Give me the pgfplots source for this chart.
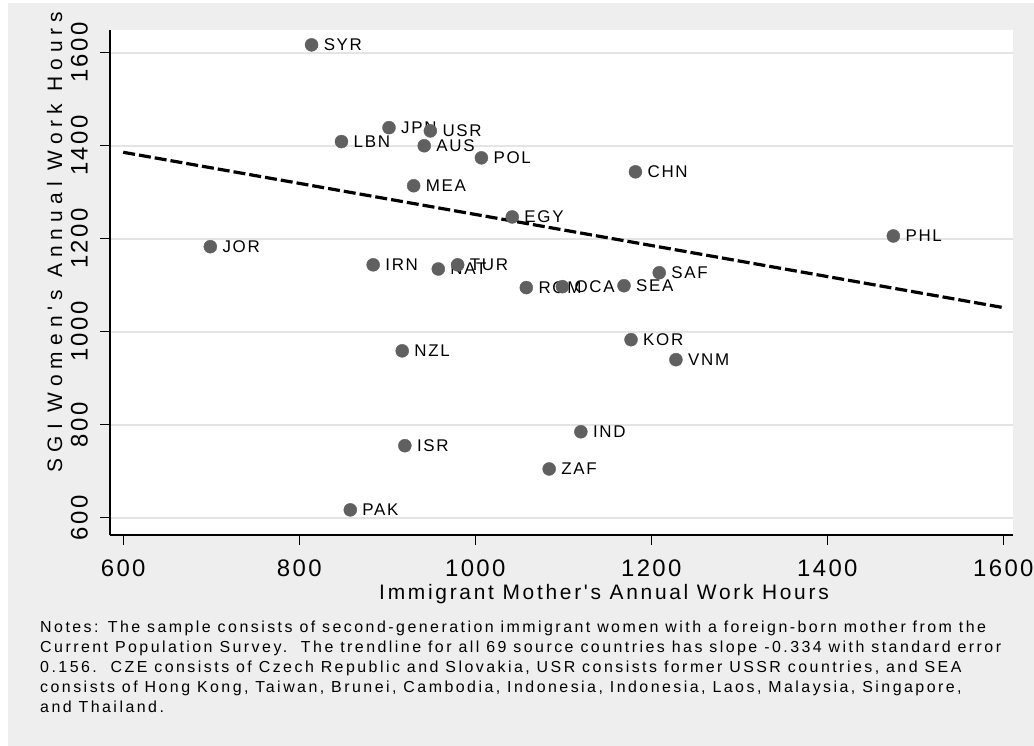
\documentclass[border=0pt]{standalone}
\usepackage{fontspec}
\setmainfont{Liberation Sans}[LetterSpace=10]
\newfontfamily\titlefont{Liberation Sans}[LetterSpace=13]
\newfontfamily\ytitlefont{Liberation Sans}[LetterSpace=29]
\newfontfamily\notefont{Liberation Sans}[LetterSpace=15.5]
\usepackage{pgfplots}
\usepackage{pgfplotstable}
\pgfplotsset{compat=1.18}
\definecolor{bg}{HTML}{EEEEEE}
\definecolor{grd}{HTML}{E4E4E4}
\definecolor{mk}{HTML}{606060}

\pgfplotstableread{
x y lab
814 1617 SYR
902 1439 JPN
949 1432 USR
848 1409 LBN
942 1400 AUS
1007 1374 POL
930 1314 MEA
1042 1247 EGY
1182 1344 CHN
1475 1206 PHL
699 1183 JOR
884 1144 IRN
958 1135 NAT
980 1144 TUR
1058 1095 ROM
1099 1097 OCA
1169 1099 SEA
1209 1127 SAF
1177 983 KOR
1228 940 VNM
917 959 NZL
1120 785 IND
920 755 ISR
1084 705 ZAF
858 617 PAK
}\pts

\begin{document}
\begin{tikzpicture}[x=1bp,y=1bp]
\path[use as bounding box] (0,0) rectangle (1034,746);
\fill[bg] (8,0) rectangle (1034,743);
\begin{axis}[
  at={(110bp,211bp)}, anchor=south west,
  scale only axis, width=903bp, height=505bp,
  xmin=585, xmax=1611, ymin=563, ymax=1649,
  axis background/.style={fill=white},
  axis x line*=bottom, axis y line*=left,
  axis line style={black, line width=1.2bp, -},
  tick align=outside, major tick length=10bp,
  tick style={black, line width=1.2bp},
  xtick={600,800,1000,1200,1400,1600},
  ytick={600,800,1000,1200,1400,1600},
  ymajorgrids, grid style={grd, line width=2.5bp},
  /pgf/number format/assume math mode=true,
  /pgf/number format/1000 sep={},
  ticklabel style={font=\fontsize{24}{28}\selectfont},
  xticklabel style={anchor=north, inner sep=0pt, yshift=-15bp},
  yticklabel style={rotate=90, anchor=south, inner sep=0pt, yshift=12bp},
  clip=false,
]
\addplot[black, line width=3.2bp, dash pattern=on 12bp off 4bp] coordinates {(600,1386) (1600,1052)};
\addplot[only marks, mark=*, mark size=6.5bp, color=mk,
  nodes near coords, point meta=explicit symbolic,
  nodes near coords style={anchor=west, inner sep=0pt, xshift=12bp, text=black, font=\fontsize{17}{20}\selectfont}]
  table[x=x, y=y, meta=lab]{\pts};
\end{axis}
\node[anchor=base, inner sep=0pt, font=\titlefont\fontsize{21}{24}\selectfont] at (604,146) {Immigrant Mother's Annual Work Hours};
\node[anchor=base, rotate=90, inner sep=0pt, font=\ytitlefont\fontsize{21}{24}\selectfont] at (62,504) {SGI Women's Annual Work Hours};
\node[anchor=north west, inner sep=0pt, align=left, font=\notefont\fontsize{16}{20}\selectfont] at (40,125) {Notes: The sample consists of second-generation immigrant women with a foreign-born mother from the\\
Current Population Survey.\ \ The trendline for all 69 source countries has slope -0.334 with standard error\\
0.156.\ \ CZE consists of Czech Republic and Slovakia, USR consists former USSR countries, and SEA\\
consists of Hong Kong, Taiwan, Brunei, Cambodia, Indonesia, Indonesia, Laos, Malaysia, Singapore,\\
and Thailand.};
\end{tikzpicture}
\end{document}
